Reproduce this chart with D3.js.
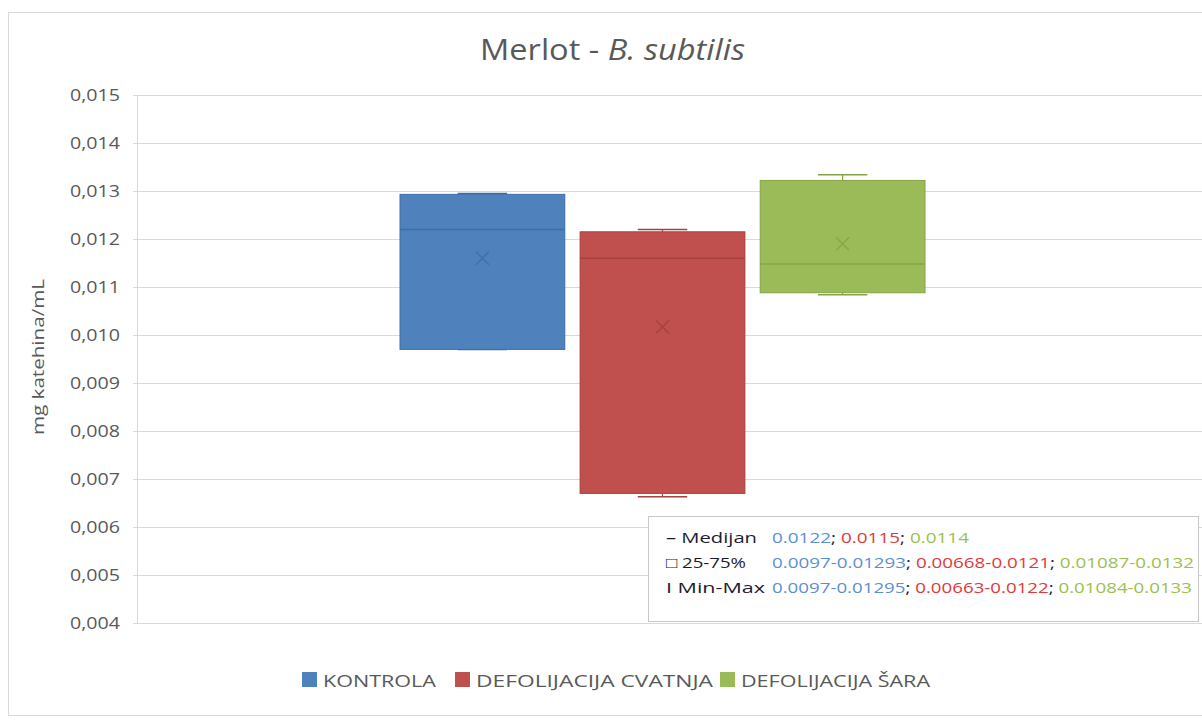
<!DOCTYPE html>
<html><head><meta charset="utf-8">
<script src="https://cdn.jsdelivr.net/npm/d3@7"></script>
<style>body{margin:0;background:#fff;} text{font-family:"Open Sans",sans-serif;}</style>
</head><body>
<svg id="c" width="1202" height="720"></svg>
<script>
const series = ["KONTROLA","DEFOLIJACIJA CVATNJA","DEFOLIJACIJA ŠARA"];
const colors = ["#4f81bd","#c0504d","#9bbb59"];
const darkColors = ["#3e6ea8","#a8403d","#84a447"];
const textColors = ["#5b8fd3","#e0393b","#9cc04d"];
const q1 = [0.0097, 0.0067, 0.01088];
const q3 = [0.01293, 0.01215, 0.01322];
const med = [0.0122, 0.0116, 0.01148];
const mins = [0.0097, 0.00663, 0.01084];
const maxs = [0.01295, 0.0122, 0.01334];
const means = [0.0116, 0.01017, 0.0119];
const yTicks = [0.004,0.005,0.006,0.007,0.008,0.009,0.010,0.011,0.012,0.013,0.014,0.015];
const legendRows = [
  {label:"\u2013 Medijan", vals:["0.0122","0.0115","0.0114"]},
  {label:"\u25A1 25-75%", vals:["0.0097-0.01293","0.00668-0.0121","0.01087-0.0132"]},
  {label:"I Min-Max", vals:["0.0097-0.01295","0.00663-0.0122","0.01084-0.0133"]}
];

const svg = d3.select("#c");
svg.append("rect").attr("x",8.5).attr("y",12.5).attr("width",1210).attr("height",703)
  .attr("fill","#fff").attr("stroke","#d9d9d9");

const y = d3.scaleLinear().domain([0.004,0.015]).range([623,95]);
const x = d3.scaleBand().domain(series).range([400,925]).paddingInner(0.085).paddingOuter(0);

function fit(sel, w){ sel.attr("textLength",w).attr("lengthAdjust","spacingAndGlyphs"); return sel; }

// gridlines
svg.append("g").selectAll("line").data(yTicks).join("line")
  .attr("x1",133).attr("x2",1202).attr("y1",d=>Math.round(y(d))+0.5).attr("y2",d=>Math.round(y(d))+0.5)
  .attr("stroke","#d9d9d9");
svg.append("line").attr("x1",137.5).attr("x2",137.5).attr("y1",95).attr("y2",623).attr("stroke","#d9d9d9");

const ax = svg.append("g").attr("transform","translate(137,0)")
  .call(d3.axisLeft(y).tickValues(yTicks).tickSize(0).tickPadding(17).tickFormat(d=>d3.format(".3f")(d).replace(".",",")));
ax.select(".domain").remove();
ax.selectAll("text").attr("fill","#595959").style("font-size","17px").style("font-family","'Open Sans',sans-serif")
  .attr("textLength",50).attr("lengthAdjust","spacingAndGlyphs");

// title
const t = svg.append("text").attr("x",480).attr("y",60).attr("text-anchor","start")
  .attr("fill","#595959").style("font-size","29px");
t.append("tspan").text("Merlot - ");
t.append("tspan").attr("font-style","italic").text("B. subtilis");
fit(t,265);

// y label
fit(svg.append("text").attr("transform","translate(44,357) rotate(-90)").attr("text-anchor","middle")
  .attr("fill","#595959").style("font-size","16px").text("mg katehina/mL"),156);

// boxes
const g = svg.append("g");
series.forEach((s,i)=>{
  const x0 = x(s), w = x.bandwidth(), cx = x0 + w/2, capW = w*0.3;
  g.append("line").attr("x1",cx).attr("x2",cx).attr("y1",y(maxs[i])).attr("y2",y(q3[i])).attr("stroke",darkColors[i]).attr("stroke-width",1.2);
  g.append("line").attr("x1",cx).attr("x2",cx).attr("y1",y(mins[i])).attr("y2",y(q1[i])).attr("stroke",darkColors[i]).attr("stroke-width",1.2);
  g.append("line").attr("x1",cx-capW/2).attr("x2",cx+capW/2).attr("y1",y(maxs[i])).attr("y2",y(maxs[i])).attr("stroke",darkColors[i]).attr("stroke-width",1.5);
  g.append("line").attr("x1",cx-capW/2).attr("x2",cx+capW/2).attr("y1",y(mins[i])).attr("y2",y(mins[i])).attr("stroke",darkColors[i]).attr("stroke-width",1.5);
  g.append("rect").attr("x",x0).attr("y",y(q3[i])).attr("width",w).attr("height",y(q1[i])-y(q3[i]))
    .attr("fill",colors[i]).attr("stroke",darkColors[i]).attr("stroke-width",1);
  g.append("line").attr("x1",x0).attr("x2",x0+w).attr("y1",y(med[i])).attr("y2",y(med[i])).attr("stroke",darkColors[i]).attr("stroke-width",1.5);
  const my = y(means[i]), r = 6.5;
  g.append("path").attr("d",`M${cx-r},${my-r}L${cx+r},${my+r}M${cx+r},${my-r}L${cx-r},${my+r}`)
    .attr("stroke",darkColors[i]).attr("stroke-width",1.6).attr("fill","none").attr("opacity",0.85);
});

// stats legend box
svg.append("rect").attr("x",648.5).attr("y",516.5).attr("width",550).attr("height",105)
  .attr("fill","#fff").attr("stroke","#c8c8c8");
const labelW = [91, 80, 99];
legendRows.forEach((r,j)=>{
  const yy = 543 + j*25;
  fit(svg.append("text").attr("x",666).attr("y",yy).attr("fill","#1c1c30").style("font-size","15px").text(r.label), labelW[j]);
  const tt = svg.append("text").attr("x",772).attr("y",yy).style("font-size","15px");
  r.vals.forEach((v,i)=>{
    tt.append("tspan").attr("fill",textColors[i]).text(v);
    if(i<2) tt.append("tspan").attr("fill","#1c1c30").text("; ");
  });
  fit(tt,[197,422,420][j]);
});

// bottom legend
const legX = [302,455,720];
const legW = [113,237,189];
series.forEach((s,i)=>{
  svg.append("rect").attr("x",legX[i]).attr("y",672).attr("width",15).attr("height",15).attr("fill",colors[i]);
  fit(svg.append("text").attr("x",legX[i]+21).attr("y",687).attr("fill","#595959").style("font-size","16px").text(s), legW[i]);
});
</script>
</body></html>
